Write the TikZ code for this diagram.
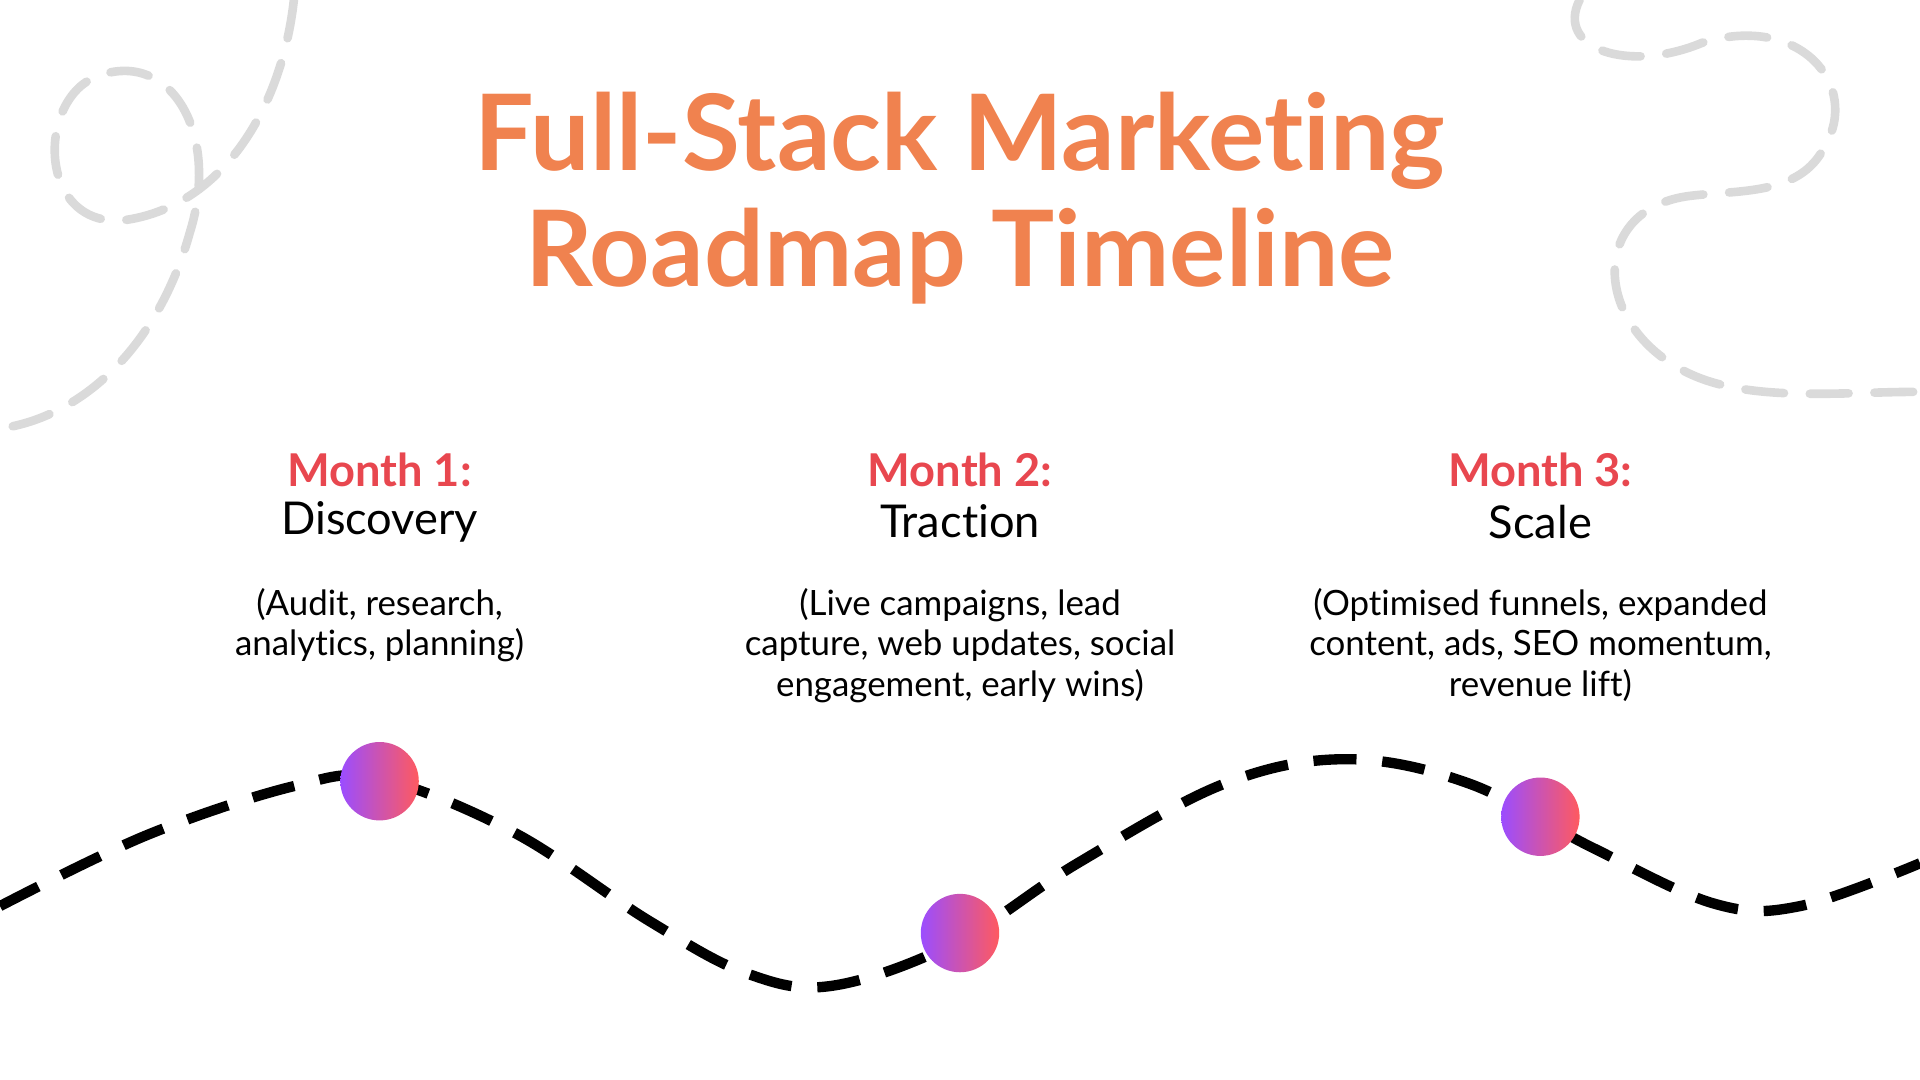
\documentclass[tikz,border=0pt]{standalone}
\usepackage{fontspec}
\setmainfont{Lato}[Ligatures={NoCommon}]
\usepackage{tikz}
\usetikzlibrary{calc}
\definecolor{titleorange}{HTML}{F0824F}
\definecolor{monthred}{HTML}{E8474F}
\definecolor{dotpurple}{HTML}{9B4DFF}
\definecolor{dotred}{HTML}{FF5A5F}
\definecolor{doodle}{HTML}{DADADA}

\begin{document}
\begin{tikzpicture}[x=0.01cm,y=-0.01cm,
month/.style={text=monthred,font=\bfseries\fontsize{10.5}{12}\selectfont},
phase/.style={font=\fontsize{10.5}{12}\selectfont},
detail/.style={align=center,font=\fontsize{8.1}{9.4}\selectfont},
dot/.style={circle,minimum size=0.64cm,inner sep=0pt,left color=dotpurple,right color=dotred}]
\useasboundingbox (0,0) rectangle (1568,882);

% doodles in the corners
\draw[doodle,line width=2pt,dash pattern=on 9pt off 6pt,line cap=round]
  (240,0) .. controls (230,90) and (180,170) .. (100,180)
  .. controls (30,185) and (30,80) .. (80,62)
  .. controls (140,40) and (180,110) .. (155,190)
  .. controls (130,280) and (70,340) .. (0,350);
\draw[doodle,line width=2pt,dash pattern=on 9pt off 6pt,line cap=round]
  (1290,0) .. controls (1270,40) and (1330,60) .. (1390,35)
  .. controls (1470,10) and (1520,70) .. (1490,120)
  .. controls (1470,160) and (1420,155) .. (1380,160)
  .. controls (1300,170) and (1300,260) .. (1370,300)
  .. controls (1420,330) and (1500,320) .. (1568,320);

% title
\node[text=titleorange,align=center,font=\bfseries\fontsize{24.5}{27}\selectfont] (title) at (784,162)
  {Full-Stack Marketing\\Roadmap Timeline};

% the road
\draw[line width=2.4pt,dash pattern=on 10pt off 6pt] plot[smooth,tension=0.6] coordinates
  {(0,740) (120,682) (240,642) (310,636) (420,680) (530,752) (610,795) (680,805)
   (780,770) (880,705) (1000,640) (1100,620) (1200,640) (1300,692) (1400,738)
   (1470,740) (1568,705)};

% stops
\foreach \x/\y/\m/\p/\d [count=\i] in {
  310/638/Month 1:/Discovery/{(Audit, research,\\analytics, planning)},
  784/762/Month 2:/Traction/{(Live campaigns, lead\\capture, web updates, social\\engagement, early wins)},
  1258/667/Month 3:/Scale/{(Optimised funnels, expanded\\content, ads, SEO momentum,\\revenue lift)}} {
  \node[dot] (dot\i) at (\x,\y) {};
  \node[month] (month\i) at (\x,384) {\m};
  \node[phase] (phase\i) at (\x,426) {\p};
  \node[detail,anchor=north] (detail\i) at (\x,468) {\d};
}
\end{tikzpicture}
\end{document}
